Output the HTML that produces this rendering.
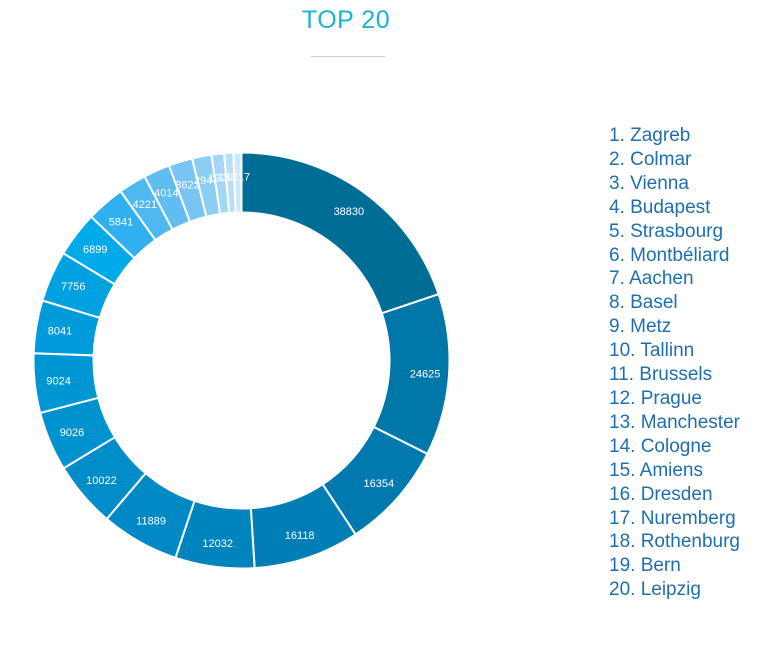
<!DOCTYPE html>
<html><head><meta charset="utf-8"><style>
body{margin:0;width:780px;height:646px;background:#fff;overflow:hidden;font-family:"Liberation Sans",sans-serif;position:relative}
.t{position:absolute;left:0;width:692px;top:6px;text-align:center;color:#1ab2d2;font-size:25px;letter-spacing:0.5px}
.hr{position:absolute;left:311px;top:56px;width:74px;height:1px;background:#cfcfcf}
.lg{position:absolute;left:609px;top:124px;color:#1f6fae;font-size:19px;line-height:23.9px}
</style></head><body>
<div class="t">TOP 20</div><div class="hr"></div>
<svg id="s" width="780" height="646" style="position:absolute;left:0;top:0"></svg>
<div class="lg">1. Zagreb<br>2. Colmar<br>3. Vienna<br>4. Budapest<br>5. Strasbourg<br>6. Montbéliard<br>7. Aachen<br>8. Basel<br>9. Metz<br>10. Tallinn<br>11. Brussels<br>12. Prague<br>13. Manchester<br>14. Cologne<br>15. Amiens<br>16. Dresden<br>17. Nuremberg<br>18. Rothenburg<br>19. Bern<br>20. Leipzig</div>
<script>
var v=[38830,24625,16354,16118,12032,11889,10022,9026,9024,8041,7756,6899,5841,4221,4014,3622,2944,1928,1385,1217];
var c=["#006d96","#0077a9","#0079ae","#007fb6","#0084bd","#0089c4","#008dca","#0092cf","#0096d4","#009bda","#00a1e0","#00a9ea","#30b0ee","#50b8f0","#60bcf1","#78c4f3","#8ccdf4","#a4d6f6","#b8dff7","#cce8f9"];
var tot=v.reduce((a,b)=>a+b),cx=241.5,cy=360.5,R=208,r=148,a=0,h="";
function p(rad,an){return [cx+rad*Math.sin(an),cy-rad*Math.cos(an)];}
v.forEach((x,i)=>{var b=a+x/tot*2*Math.PI,l=(b-a)>Math.PI?1:0;
var p1=p(R,a),p2=p(R,b),p3=p(r,b),p4=p(r,a);
h+=`<path d="M${p1}A${R},${R} 0 ${l} 1 ${p2}L${p3}A${r},${r} 0 ${l} 0 ${p4}Z" fill="${c[i]}" stroke="#fff" stroke-width="2"/>`;
var m=p(184,(a+b)/2);h+=`<text x="${m[0]}" y="${m[1]+4}" fill="#fff" font-size="11" text-anchor="middle" font-family="Liberation Sans">${x}</text>`;a=b;});
document.getElementById("s").innerHTML=h;
</script>
</body></html>
